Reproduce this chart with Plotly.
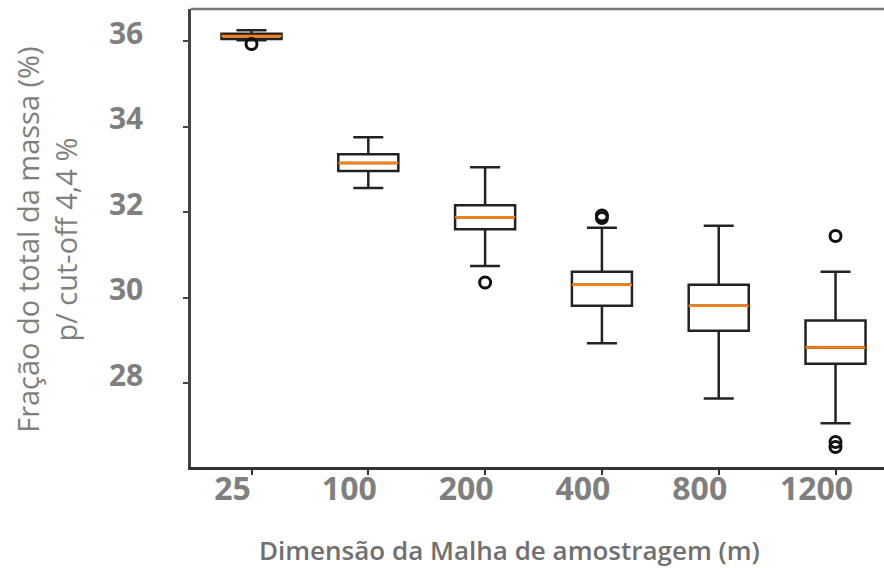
import plotly.graph_objects as go

# Sampling mesh sizes (m) and box statistics of the mass fraction (%)
mesh = ["25", "100", "200", "400", "800", "1200"]
upper_whisker = [36.25, 33.75, 33.05, 31.63, 31.68, 30.60]
q3 = [36.17, 33.35, 32.16, 30.60, 30.30, 29.46]
median = [36.12, 33.15, 31.88, 30.30, 29.81, 28.83]
q1 = [36.05, 32.96, 31.60, 29.81, 29.22, 28.45]
lower_whisker = [36.02, 32.56, 30.74, 28.93, 27.64, 27.06]
outliers = {
    "25": [35.93],
    "200": [30.35],
    "400": [31.86, 31.92],
    "1200": [31.44, 26.62, 26.50],
}
y_ticks = [28, 30, 32, 34, 36]

positions = list(range(len(mesh)))
box_width = 0.514
gray_text = "#7f7f7f"

fig = go.Figure()

fig.add_trace(go.Box(
    x=positions,
    q1=q1, median=median, q3=q3,
    lowerfence=lower_whisker, upperfence=upper_whisker,
    width=box_width, whiskerwidth=0.5,
    fillcolor="white",
    line=dict(color="#222222", width=2.5),
    boxpoints=False,
    hoverinfo="skip",
))

# Orange median bars drawn across each box
med_x, med_y = [], []
for p, m in zip(positions, median):
    med_x += [p - box_width / 2, p + box_width / 2, None]
    med_y += [m, m, None]
fig.add_trace(go.Scatter(
    x=med_x, y=med_y, mode="lines",
    line=dict(color="#ff7f0e", width=2.5),
    hoverinfo="skip",
))

# Flier points
fx, fy = [], []
for label, vals in outliers.items():
    p = positions[mesh.index(label)]
    fx += [p] * len(vals)
    fy += vals
fig.add_trace(go.Scatter(
    x=fx, y=fy, mode="markers",
    marker=dict(symbol="circle-open", size=11, color="#111111",
                line=dict(width=3, color="#111111")),
    hoverinfo="skip",
))

x_tick_font = dict(family="Open Sans", size=32, color=gray_text, weight="bold")
y_tick_font = dict(family="Open Sans", size=30, color=gray_text, weight="bold")

fig.update_layout(
    width=884, height=568,
    margin=dict(l=191, r=0, t=9, b=101),
    plot_bgcolor="white", paper_bgcolor="white",
    showlegend=False,
    xaxis=dict(
        range=[-0.518, 5.415],
        tickvals=positions, ticktext=mesh,
        ticks="outside", ticklen=5, tickwidth=2, tickcolor="#333333",
        showline=True, linecolor="#333333", linewidth=2.5,
        showgrid=False, zeroline=False,
        tickfont=x_tick_font,
        ticklabelshift=-19, ticklabelstandoff=-13,
    ),
    yaxis=dict(
        range=[26.035, 36.75],
        tickvals=y_ticks,
        ticks="outside", ticklen=5, tickwidth=2, tickcolor="#444444",
        showline=True, linecolor="#444444", linewidth=2.5,
        showgrid=False, zeroline=False,
        tickfont=y_tick_font,
        ticklabelshift=-8, ticklabelstandoff=34,
    ),
    shapes=[dict(type="line", xref="paper", yref="paper",
                 x0=0, x1=1, y0=1, y1=1,
                 line=dict(color="#777777", width=2.5))],
    annotations=[
        dict(text="Fração do total da massa (%)<br>p/ cut-off 4,4 %",
             textangle=-90, xref="paper", yref="paper",
             x=(47 - 191) / 693, y=0.496,
             xanchor="center", yanchor="middle", showarrow=False,
             font=dict(family="Open Sans", size=29, color=gray_text)),
        dict(text="Dimensão da Malha de amostragem (m)",
             xref="paper", yref="paper",
             x=0.459, y=-0.181,
             xanchor="center", yanchor="middle", showarrow=False,
             font=dict(family="Open Sans", size=26, color="#707070", weight=600)),
    ],
)

fig.write_html("out.html")
